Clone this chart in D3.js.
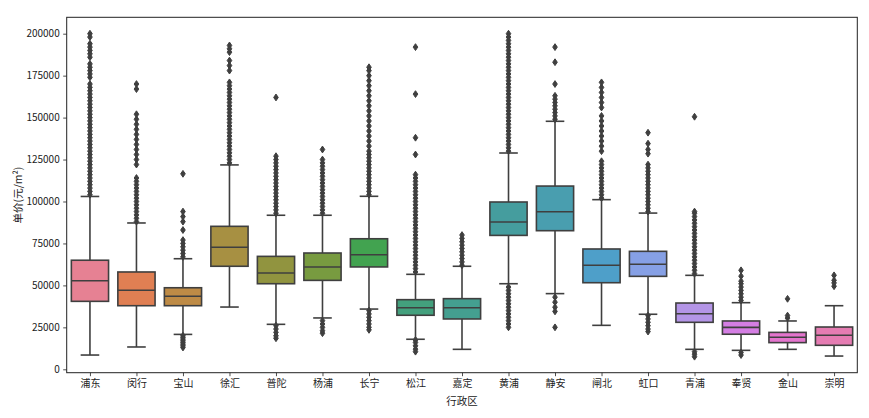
<!DOCTYPE html>
<html><head><meta charset="utf-8">
<script src="https://cdn.jsdelivr.net/npm/d3@7/dist/d3.min.js"></script>
<style>body{margin:0;background:#fff}svg{display:block}text{font-family:"Noto Sans CJK SC","DejaVu Sans",sans-serif}</style>
</head><body>
<svg id="c" width="869" height="418"></svg>
<script>
const categories = ["浦东","闵行","宝山","徐汇","普陀","杨浦","长宁","松江","嘉定","黄浦","静安","闸北","虹口","青浦","奉贤","金山","崇明"];
const whiskerLow  = [8500,13300,20800,37100,26800,30600,35900,17900,11900,51000,45100,26200,32800,11900,11300,11900,7900];
const q1          = [40500,37900,37900,61400,51000,53000,61000,32200,30000,79800,82600,51600,55400,28000,20900,15900,14300];
const median      = [52800,47100,43500,72700,57400,61000,68300,36700,36700,87800,93900,62000,62600,33100,25000,19100,20300];
const q3          = [65000,58000,48600,85200,67300,69300,77800,41500,42100,99700,109200,71700,70300,39500,28800,22000,25200];
const whiskerHigh = [103000,87200,65900,121800,91800,91800,103100,56600,61400,128900,147800,101100,93100,56000,39700,28800,37900];
const outliers = [
  [104000,106000,108000,110000,112000,114000,116000,118000,120000,122000,124000,126000,128000,130000,132000,134000,136000,138000,140000,142000,144000,146000,148000,150000,152000,154000,156000,158000,160000,162000,164000,166000,168000,170000,174000,176000,178000,180000,182000,186000,188000,190000,192000,194000,198000,200000],
  [88000,90000,92000,94000,96000,98000,100000,102000,104000,106000,108000,110000,112000,114000,122000,125000,128000,131000,134000,137000,140000,143000,146000,149000,152000,167000,170000],
  [13000,14000,15000,16000,17000,18000,19000,20000,67000,69000,71000,73000,75000,77000,83000,88000,91000,94000,116500],
  [123000,125000,127000,129000,131000,133000,135000,137000,139000,141000,143000,145000,147000,149000,151000,153000,155000,157000,159000,161000,163000,165000,167000,169000,171000,178000,181000,184000,189000,191000,193000],
  [18500,20000,22000,24000,26000,93000,95000,97000,99000,101000,103000,105000,107000,109000,111000,113000,115000,117000,119000,121000,123000,125000,127000,162000],
  [21500,23000,25000,27000,29000,93000,95000,97000,99000,101000,103000,105000,107000,109000,111000,113000,115000,117000,119000,121000,123000,125000,131000],
  [23500,25000,27000,29000,31000,33000,35000,104000,106000,108000,110000,112000,114000,116000,118000,120000,122000,124000,126000,128000,130000,133000,136000,139000,142000,145000,148000,151000,154000,157000,160000,163000,166000,169000,172000,175000,178000,180000],
  [10500,12000,14000,16000,17500,58000,60000,62000,64000,66000,68000,70000,72000,74000,76000,78000,80000,82000,84000,86000,88000,90000,92000,94000,96000,98000,100000,102000,104000,106000,108000,110000,112000,114000,116000,128000,138000,164000,192000],
  [62000,64000,66000,68000,70000,72000,74000,76000,78000,80000],
  [25000,27000,29000,31000,33000,35000,37000,39000,41000,43000,45000,47000,49000,130000,132000,134000,136000,138000,140000,142000,144000,146000,148000,150000,152000,154000,156000,158000,160000,162000,164000,166000,168000,170000,172000,174000,176000,178000,180000,182000,184000,186000,188000,190000,192000,194000,196000,198000,200000],
  [25000,34500,37000,40000,43000,149000,151000,153000,155000,157000,159000,161000,163000,170000,183000,192000],
  [102000,104000,106000,108000,110000,112000,114000,116000,118000,120000,122000,124000,130000,133000,136000,139000,142000,145000,148000,151000,156000,159000,162000,165000,168000,171000],
  [22500,24000,26000,28000,30000,32000,94000,96000,98000,100000,102000,104000,106000,108000,110000,112000,114000,116000,118000,120000,122000,128500,131000,134500,141000],
  [7500,9000,10500,57000,59000,61000,63000,65000,67000,69000,71000,73000,75000,77000,79000,81000,83000,85000,87000,89000,91000,93000,94000,150500],
  [8500,10000,41000,43000,45000,47000,49000,51000,52500,55500,59000],
  [30500,32000,42000],
  [49500,51500,53000,56000]
];
const yTicks = [0,25000,50000,75000,100000,125000,150000,175000,200000];
const yLabel = "单价(元/m²)";
const xLabel = "行政区";

// seaborn husl palette
const M = [[3.2406,-1.5372,-0.4986],[-0.9689,1.8758,0.0415],[0.0557,-0.2040,1.0570]];
function maxChroma(L,H){const hr=H*Math.PI/180,s=Math.sin(hr),c=Math.cos(hr);const s1=Math.pow(L+16,3)/1560896;const s2=s1>0.008856?s1:L/903.3;let r=Infinity;
 for(const [m1,m2,m3] of M){const top=(0.99915*m1+1.05122*m2+1.14460*m3)*s2;const rb=0.86330*m3-0.17266*m2;const lb=0.12949*m3-0.38848*m1;const bot=(rb*s+lb*c)*s2;
  for(const t of [0,1]){const C=L*(top-1.05122*t)/(bot+0.17266*s*t);if(C>0&&C<r)r=C;}}return r;}
function husl2rgb(H,S,L){const C=maxChroma(L,H)/100*S;const hr=H*Math.PI/180;const U=Math.cos(hr)*C,V=Math.sin(hr)*C;
 const finv=t=>Math.pow(t,3)>0.008856?Math.pow(t,3):(116*t-16)/903.3;const Y=finv((L+16)/116);const vu=U/(13*L)+0.19784,vv=V/(13*L)+0.46834;
 const X=-(9*Y*vu)/((vu-4)*vv-vu*vv);const Z=(9*Y-15*vv*Y-vv*X)/(3*vv);
 return M.map(r=>{const v=r[0]*X+r[1]*Y+r[2]*Z;const g=v<=0.0031308?12.92*v:1.055*Math.pow(v,1/2.4)-0.055;return Math.max(0,Math.min(1,g));});}
const n=categories.length;
const colors=d3.range(n).map(i=>{let h=(i/n+0.01)%1*359;const rgb=husl2rgb(h,0.9*99,0.65*99);const c=d3.hsl(d3.rgb(rgb[0]*255,rgb[1]*255,rgb[2]*255));c.s*=0.75;return c.formatHex();});
const lum=d3.min(colors,c=>d3.hsl(c).l)*0.6;
const gray=d3.rgb(lum*255,lum*255,lum*255).formatHex();

const svg=d3.select("#c");
const L=66.7,R=857.3,T=17.3,B=372.7;
const x=d3.scaleLinear().domain([-0.5,n-0.5]).range([L,R]);
const y=d3.scaleLinear().domain([-2026,209770]).range([B,T]);
const step=x(1)-x(0),bw=step*0.8;

// axes
const yAxis=svg.append("g").attr("transform",`translate(${L},0)`).call(d3.axisLeft(y).tickValues(yTicks).tickFormat(d3.format("d")).tickSizeOuter(0).tickSize(3.5).tickPadding(3.5));
const xAxis=svg.append("g").attr("transform",`translate(0,${B})`).call(d3.axisBottom(x).tickValues(d3.range(n)).tickFormat(i=>categories[i]).tickSizeOuter(0).tickSize(3.5).tickPadding(3.5));
[yAxis,xAxis].forEach(a=>{a.select(".domain").remove();a.selectAll("line").attr("stroke","#222").attr("stroke-width",0.8);a.selectAll("text").attr("fill","#222").style("font-size","10px");});

const g=svg.append("g");
categories.forEach((c,i)=>{
  const cx=x(i);
  g.append("line").attr("x1",cx).attr("x2",cx).attr("y1",y(q3[i])).attr("y2",y(whiskerHigh[i])).attr("stroke",gray).attr("stroke-width",1.6);
  g.append("line").attr("x1",cx).attr("x2",cx).attr("y1",y(q1[i])).attr("y2",y(whiskerLow[i])).attr("stroke",gray).attr("stroke-width",1.6);
  [whiskerHigh[i],whiskerLow[i]].forEach(v=>g.append("line").attr("x1",cx-bw/4).attr("x2",cx+bw/4).attr("y1",y(v)).attr("y2",y(v)).attr("stroke",gray).attr("stroke-width",1.6));
  g.append("rect").attr("x",cx-bw/2).attr("width",bw).attr("y",y(q3[i])).attr("height",y(q1[i])-y(q3[i])).attr("fill",colors[i]).attr("stroke",gray).attr("stroke-width",1.6);
  g.append("line").attr("x1",cx-bw/2).attr("x2",cx+bw/2).attr("y1",y(median[i])).attr("y2",y(median[i])).attr("stroke",gray).attr("stroke-width",1.6);
  g.selectAll(null).data(outliers[i]).enter().append("path")
    .attr("d","M0,-3.4L2.3,0L0,3.4L-2.3,0Z").attr("transform",v=>`translate(${cx},${y(v)})`)
    .attr("fill",gray).attr("stroke",gray).attr("stroke-width",1);
});

svg.append("rect").attr("x",L).attr("y",T).attr("width",R-L).attr("height",B-T).attr("fill","none").attr("stroke","#222").attr("stroke-width",1);

svg.append("text").attr("transform",`translate(19,${(T+B)/2}) rotate(-90)`).attr("text-anchor","middle").attr("dominant-baseline","middle").style("font-size","10.5px").attr("fill","#222").text(yLabel);
svg.append("text").attr("x",(L+R)/2).attr("y",402).attr("text-anchor","middle").attr("dominant-baseline","middle").style("font-size","10.5px").attr("fill","#222").text(xLabel);
</script>
</body></html>
